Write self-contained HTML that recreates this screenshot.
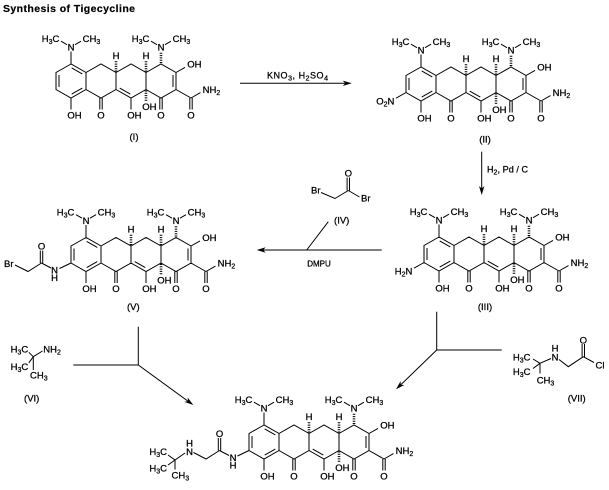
<!DOCTYPE html>
<html><head><meta charset="utf-8"><style>
html,body{margin:0;padding:0;background:#fff}
svg{display:block}
svg text{font-family:"Liberation Sans",Arial,sans-serif;font-size:9.5px;fill:#000;stroke:#000;stroke-width:0.25}
svg .s{font-size:7px}
svg .c{text-anchor:middle}
svg .e{text-anchor:end}
svg .t{font-size:9px}
svg path{fill:none;stroke:#000;stroke-width:1}
svg path.h{stroke-width:2.6;stroke-dasharray:1 1.3}
svg polygon{fill:#000;stroke:none}
</style></head><body>
<svg width="609" height="490" viewBox="0 0 609 490" xmlns="http://www.w3.org/2000/svg">
<text x="3" y="12" style="font-weight:bold;font-size:10.5px;stroke-width:0.2" textLength="132">Synthesis of Tigecycline</text>

<!-- Compound I -->
<g transform="translate(71,64)">
<path d="M0,0L-15,8.5L-15,25.5L0,34L15,25.5L15,8.5Z M15,8.5L30,0L45,8.5L45,25.5L30,34L15,25.5 M45,8.5L60,0L75,8.5L75,25.5L60,34L45,25.5 M75,8.5L90,0L105,8.5L105,25.5L90,34L75,25.5 M-12,11L-12,23 M0.7,30.1L11.3,24.1 M11.3,9.9L0.7,3.9 M48.7,24.1L59.3,30.1 M102,11L102,23 M0,0L0,-12.5 M-4,-19.3L-10,-22.8 M4,-19.3L10,-22.8 M86,-19.3L80,-22.8 M94,-19.3L100,-22.8 M0,34L0,45.5 M28.8,34L28.8,45.5 M31.2,34L31.2,45.5 M60,34L60,45.5 M88.8,34L88.8,45.5 M91.2,34L91.2,45.5 M105,25.5L120,34 M118.8,34L118.8,45.5 M121.2,34L121.2,45.5 M120,34L129.5,28.6 M105,8.5L114,3.4"/>
<path class="h" d="M90,-1L90,-12.5 M45,7.5L45,-3.5 M75,7.5L75,-3.5 M75,26.5L75,37"/>
<text x="0" y="-13.6" class="c">N</text>
<text x="-11.6" y="-22.1" class="e">H<tspan class="s" dy="2">3</tspan><tspan dy="-2">C</tspan></text>
<text x="11.6" y="-22.1">CH<tspan class="s" dy="2">3</tspan></text>
<text x="90" y="-13.6" class="c">N</text>
<text x="78.4" y="-22.1" class="e">H<tspan class="s" dy="2">3</tspan><tspan dy="-2">C</tspan></text>
<text x="101.6" y="-22.1">CH<tspan class="s" dy="2">3</tspan></text>
<text x="45" y="-5.1" class="c">H</text>
<text x="75" y="-5.1" class="c">H</text>
<text x="116.3" y="3.4">OH</text>
<text x="131.6" y="28.9">NH<tspan class="s" dy="2">2</tspan></text>
<text x="-3.7" y="54.4">OH</text>
<text x="30" y="54.4" class="c">O</text>
<text x="56.3" y="54.4">OH</text>
<text x="71.3" y="45.9">OH</text>
<text x="90" y="54.4" class="c">O</text>
<text x="120" y="54.4" class="c">O</text>
</g>
<text x="134" y="140" class="c">(I)</text>

<!-- Arrow I -> II -->
<path d="M240,83.3H348"/>
<polygon points="351.7,83.3 342.7,80.6 345.2,83.3 342.7,86"/>
<text x="267" y="78.5" class="t" textLength="61">KNO<tspan class="s" dy="2">3</tspan><tspan dy="-2">, H</tspan><tspan class="s" dy="2">2</tspan><tspan dy="-2">SO</tspan><tspan class="s" dy="2">4</tspan></text>

<!-- Compound II -->
<g transform="translate(421,67)">
<path d="M0,0L-15,8.5L-15,25.5L0,34L15,25.5L15,8.5Z M15,8.5L30,0L45,8.5L45,25.5L30,34L15,25.5 M45,8.5L60,0L75,8.5L75,25.5L60,34L45,25.5 M75,8.5L90,0L105,8.5L105,25.5L90,34L75,25.5 M-12,11L-12,23 M0.7,30.1L11.3,24.1 M11.3,9.9L0.7,3.9 M48.7,24.1L59.3,30.1 M102,11L102,23 M0,0L0,-12.5 M-4,-19.3L-10,-22.8 M4,-19.3L10,-22.8 M86,-19.3L80,-22.8 M94,-19.3L100,-22.8 M0,34L0,45.5 M28.8,34L28.8,45.5 M31.2,34L31.2,45.5 M60,34L60,45.5 M88.8,34L88.8,45.5 M91.2,34L91.2,45.5 M105,25.5L120,34 M118.8,34L118.8,45.5 M121.2,34L121.2,45.5 M120,34L129.5,28.6 M105,8.5L114,3.4 M-15,25.5L-25,31.2"/>
<path class="h" d="M90,-1L90,-12.5 M45,7.5L45,-3.5 M75,7.5L75,-3.5 M75,26.5L75,37"/>
<text x="0" y="-13.6" class="c">N</text>
<text x="-11.6" y="-22.1" class="e">H<tspan class="s" dy="2">3</tspan><tspan dy="-2">C</tspan></text>
<text x="11.6" y="-22.1">CH<tspan class="s" dy="2">3</tspan></text>
<text x="90" y="-13.6" class="c">N</text>
<text x="78.4" y="-22.1" class="e">H<tspan class="s" dy="2">3</tspan><tspan dy="-2">C</tspan></text>
<text x="101.6" y="-22.1">CH<tspan class="s" dy="2">3</tspan></text>
<text x="45" y="-5.1" class="c">H</text>
<text x="75" y="-5.1" class="c">H</text>
<text x="116.3" y="3.4">OH</text>
<text x="131.6" y="28.9">NH<tspan class="s" dy="2">2</tspan></text>
<text x="-3.7" y="54.4">OH</text>
<text x="30" y="54.4" class="c">O</text>
<text x="56.3" y="54.4">OH</text>
<text x="71.3" y="45.9">OH</text>
<text x="90" y="54.4" class="c">O</text>
<text x="120" y="54.4" class="c">O</text>
<text x="-26.6" y="37.4" class="e">O<tspan class="s" dy="2">2</tspan><tspan dy="-2">N</tspan></text>
</g>
<text x="485" y="142.5" class="c">(II)</text>

<!-- Arrow II -> III -->
<path d="M481.7,151.7V191"/>
<polygon points="481.7,195 479,186 481.7,188.5 484.4,186"/>
<text x="487" y="172.3" class="t" textLength="41">H<tspan class="s" dy="2">2</tspan><tspan dy="-2">, Pd / C</tspan></text>

<!-- Compound III -->
<g transform="translate(439,237)">
<path d="M0,0L-15,8.5L-15,25.5L0,34L15,25.5L15,8.5Z M15,8.5L30,0L45,8.5L45,25.5L30,34L15,25.5 M45,8.5L60,0L75,8.5L75,25.5L60,34L45,25.5 M75,8.5L90,0L105,8.5L105,25.5L90,34L75,25.5 M-12,11L-12,23 M0.7,30.1L11.3,24.1 M11.3,9.9L0.7,3.9 M48.7,24.1L59.3,30.1 M102,11L102,23 M0,0L0,-12.5 M-4,-19.3L-10,-22.8 M4,-19.3L10,-22.8 M86,-19.3L80,-22.8 M94,-19.3L100,-22.8 M0,34L0,45.5 M28.8,34L28.8,45.5 M31.2,34L31.2,45.5 M60,34L60,45.5 M88.8,34L88.8,45.5 M91.2,34L91.2,45.5 M105,25.5L120,34 M118.8,34L118.8,45.5 M121.2,34L121.2,45.5 M120,34L129.5,28.6 M105,8.5L114,3.4 M-15,25.5L-25,31.2"/>
<path class="h" d="M90,-1L90,-12.5 M45,7.5L45,-3.5 M75,7.5L75,-3.5 M75,26.5L75,37"/>
<text x="0" y="-13.6" class="c">N</text>
<text x="-11.6" y="-22.1" class="e">H<tspan class="s" dy="2">3</tspan><tspan dy="-2">C</tspan></text>
<text x="11.6" y="-22.1">CH<tspan class="s" dy="2">3</tspan></text>
<text x="90" y="-13.6" class="c">N</text>
<text x="78.4" y="-22.1" class="e">H<tspan class="s" dy="2">3</tspan><tspan dy="-2">C</tspan></text>
<text x="101.6" y="-22.1">CH<tspan class="s" dy="2">3</tspan></text>
<text x="45" y="-5.1" class="c">H</text>
<text x="75" y="-5.1" class="c">H</text>
<text x="116.3" y="3.4">OH</text>
<text x="131.6" y="28.9">NH<tspan class="s" dy="2">2</tspan></text>
<text x="-3.7" y="54.4">OH</text>
<text x="30" y="54.4" class="c">O</text>
<text x="56.3" y="54.4">OH</text>
<text x="71.3" y="45.9">OH</text>
<text x="90" y="54.4" class="c">O</text>
<text x="120" y="54.4" class="c">O</text>
<text x="-26.6" y="37.4" class="e">H<tspan class="s" dy="2">2</tspan><tspan dy="-2">N</tspan></text>
</g>
<text x="485" y="310" class="c">(III)</text>

<!-- Compound IV -->
<path d="M321,192.5L335,198.5L348.3,190.5 M347.1,190.5L347.1,177.5 M349.5,190.5L349.5,177.5 M348.3,190.5L359.5,197"/>
<text x="315.8" y="193.4" class="c">Br</text>
<text x="348.3" y="176.7" class="c">O</text>
<text x="365.8" y="201.7" class="c">Br</text>
<text x="341.7" y="223.4" class="c">(IV)</text>

<!-- Arrow III -> V -->
<path d="M381.7,250H260 M306.7,250L328.3,221.7"/>
<polygon points="256.7,250 265.7,247.3 263.2,250 265.7,252.7"/>
<text x="319" y="266.3" class="c" style="font-size:8px">DMPU</text>

<!-- Compound V -->
<g transform="translate(86,237.5)">
<path d="M0,0L-15,8.5L-15,25.5L0,34L15,25.5L15,8.5Z M15,8.5L30,0L45,8.5L45,25.5L30,34L15,25.5 M45,8.5L60,0L75,8.5L75,25.5L60,34L45,25.5 M75,8.5L90,0L105,8.5L105,25.5L90,34L75,25.5 M-12,11L-12,23 M0.7,30.1L11.3,24.1 M11.3,9.9L0.7,3.9 M48.7,24.1L59.3,30.1 M102,11L102,23 M0,0L0,-12.5 M-4,-19.3L-10,-22.8 M4,-19.3L10,-22.8 M86,-19.3L80,-22.8 M94,-19.3L100,-22.8 M0,34L0,45.5 M28.8,34L28.8,45.5 M31.2,34L31.2,45.5 M60,34L60,45.5 M88.8,34L88.8,45.5 M91.2,34L91.2,45.5 M105,25.5L120,34 M118.8,34L118.8,45.5 M121.2,34L121.2,45.5 M120,34L129.5,28.6 M105,8.5L114,3.4 M-15,25.5L-26.5,31 M-35,30.5L-44.5,25.5 M-45.7,25.5L-45.7,13 M-43.3,25.5L-43.3,13 M-44.5,25.5L-58,34L-71,27.5"/>
<path class="h" d="M90,-1L90,-12.5 M45,7.5L45,-3.5 M75,7.5L75,-3.5 M75,26.5L75,37"/>
<text x="0" y="-13.6" class="c">N</text>
<text x="-11.6" y="-22.1" class="e">H<tspan class="s" dy="2">3</tspan><tspan dy="-2">C</tspan></text>
<text x="11.6" y="-22.1">CH<tspan class="s" dy="2">3</tspan></text>
<text x="90" y="-13.6" class="c">N</text>
<text x="78.4" y="-22.1" class="e">H<tspan class="s" dy="2">3</tspan><tspan dy="-2">C</tspan></text>
<text x="101.6" y="-22.1">CH<tspan class="s" dy="2">3</tspan></text>
<text x="45" y="-5.1" class="c">H</text>
<text x="75" y="-5.1" class="c">H</text>
<text x="116.3" y="3.4">OH</text>
<text x="131.6" y="28.9">NH<tspan class="s" dy="2">2</tspan></text>
<text x="-3.7" y="54.4">OH</text>
<text x="30" y="54.4" class="c">O</text>
<text x="56.3" y="54.4">OH</text>
<text x="71.3" y="45.9">OH</text>
<text x="90" y="54.4" class="c">O</text>
<text x="120" y="54.4" class="c">O</text>
<text x="-31.5" y="35.9" class="c">N</text>
<text x="-31.5" y="43.4" class="c">H</text>
<text x="-44.5" y="11.9" class="c">O</text>
<text x="-72.5" y="29.5" class="e">Br</text>
</g>
<text x="133.3" y="310" class="c">(V)</text>

<!-- Compound VI -->
<path d="M33.3,356.7L28.8,352.3 M33.3,356.7L28.8,362.8 M33.3,356.7L33.3,370 M33.3,356.7L42.5,351"/>
<text x="28.3" y="352.7" class="e">H<tspan class="s" dy="2">3</tspan><tspan dy="-2">C</tspan></text>
<text x="43.3" y="352.7">NH<tspan class="s" dy="2">2</tspan></text>
<text x="28.3" y="370.1" class="e">H<tspan class="s" dy="2">3</tspan><tspan dy="-2">C</tspan></text>
<text x="30" y="378.4">CH<tspan class="s" dy="2">3</tspan></text>
<text x="31.7" y="401.7" class="c">(VI)</text>

<!-- Arrow V + VI -> final -->
<path d="M138.3,326.7V365 M73.3,365H138.3 M138.3,365L190.5,403"/>
<g transform="translate(193.3,405) rotate(36.03)"><polygon points="0,0 -9,-2.7 -6.5,0 -9,2.7"/></g>

<!-- Compound VII -->
<path d="M540,363.3L533,359 M540,363.3L533,368.5 M540,363.3L540,373.5 M540,363.3L551,358.5 M559,359.5L568.3,366.7L583.3,356.7 M582.1,356.7L582.1,344 M584.5,356.7L584.5,344 M583.3,356.7L594,362.5"/>
<text x="530.5" y="360.7" class="e">H<tspan class="s" dy="2">3</tspan><tspan dy="-2">C</tspan></text>
<text x="530.5" y="375.1" class="e">H<tspan class="s" dy="2">3</tspan><tspan dy="-2">C</tspan></text>
<text x="536.7" y="383.4">CH<tspan class="s" dy="2">3</tspan></text>
<text x="555" y="360.7" class="c">N</text>
<text x="555" y="351.7" class="c">H</text>
<text x="583.3" y="343.4" class="c">O</text>
<text x="595.5" y="368.4">Cl</text>
<text x="576.7" y="401.7" class="c">(VII)</text>

<!-- Arrow III + VII -> final -->
<path d="M436.7,311.7V350H501.7 M436.7,350L398.5,387"/>
<g transform="translate(396,389.3) rotate(136)"><polygon points="0,0 -9,-2.7 -6.5,0 -9,2.7"/></g>

<!-- Final product -->
<g transform="translate(264,425)">
<path d="M0,0L-15,8.5L-15,25.5L0,34L15,25.5L15,8.5Z M15,8.5L30,0L45,8.5L45,25.5L30,34L15,25.5 M45,8.5L60,0L75,8.5L75,25.5L60,34L45,25.5 M75,8.5L90,0L105,8.5L105,25.5L90,34L75,25.5 M-12,11L-12,23 M0.7,30.1L11.3,24.1 M11.3,9.9L0.7,3.9 M48.7,24.1L59.3,30.1 M102,11L102,23 M0,0L0,-12.5 M-4,-19.3L-10,-22.8 M4,-19.3L10,-22.8 M86,-19.3L80,-22.8 M94,-19.3L100,-22.8 M0,34L0,45.5 M28.8,34L28.8,45.5 M31.2,34L31.2,45.5 M60,34L60,45.5 M88.8,34L88.8,45.5 M91.2,34L91.2,45.5 M105,25.5L120,34 M118.8,34L118.8,45.5 M121.2,34L121.2,45.5 M120,34L129.5,28.6 M105,8.5L114,3.4 M-15,25.5L-26.5,31 M-35,30.5L-44.5,25.5 M-45.7,25.5L-45.7,13 M-43.3,25.5L-43.3,13 M-44.5,25.5L-58,34L-70.5,27.5 M-79,28L-89,35 L-96,30 M-89,35L-96,40 M-89,35L-89,44.5"/>
<path class="h" d="M90,-1L90,-12.5 M45,7.5L45,-3.5 M75,7.5L75,-3.5 M75,26.5L75,37"/>
<text x="0" y="-13.6" class="c">N</text>
<text x="-11.6" y="-22.1" class="e">H<tspan class="s" dy="2">3</tspan><tspan dy="-2">C</tspan></text>
<text x="11.6" y="-22.1">CH<tspan class="s" dy="2">3</tspan></text>
<text x="90" y="-13.6" class="c">N</text>
<text x="78.4" y="-22.1" class="e">H<tspan class="s" dy="2">3</tspan><tspan dy="-2">C</tspan></text>
<text x="101.6" y="-22.1">CH<tspan class="s" dy="2">3</tspan></text>
<text x="45" y="-5.1" class="c">H</text>
<text x="75" y="-5.1" class="c">H</text>
<text x="116.3" y="3.4">OH</text>
<text x="131.6" y="28.9">NH<tspan class="s" dy="2">2</tspan></text>
<text x="-3.7" y="54.4">OH</text>
<text x="30" y="54.4" class="c">O</text>
<text x="56.3" y="54.4">OH</text>
<text x="71.3" y="45.9">OH</text>
<text x="90" y="54.4" class="c">O</text>
<text x="120" y="54.4" class="c">O</text>
<text x="-31" y="35.9" class="c">N</text>
<text x="-31" y="43.4" class="c">H</text>
<text x="-44.5" y="11.9" class="c">O</text>
<text x="-74.5" y="30.2" class="c">N</text>
<text x="-74.5" y="21.7" class="c">H</text>
<text x="-97" y="30.1" class="e">H<tspan class="s" dy="2">3</tspan><tspan dy="-2">C</tspan></text>
<text x="-97" y="46.7" class="e">H<tspan class="s" dy="2">3</tspan><tspan dy="-2">C</tspan></text>
<text x="-92.5" y="53.4">CH<tspan class="s" dy="2">3</tspan></text>
</g>
</svg>
</body></html>
